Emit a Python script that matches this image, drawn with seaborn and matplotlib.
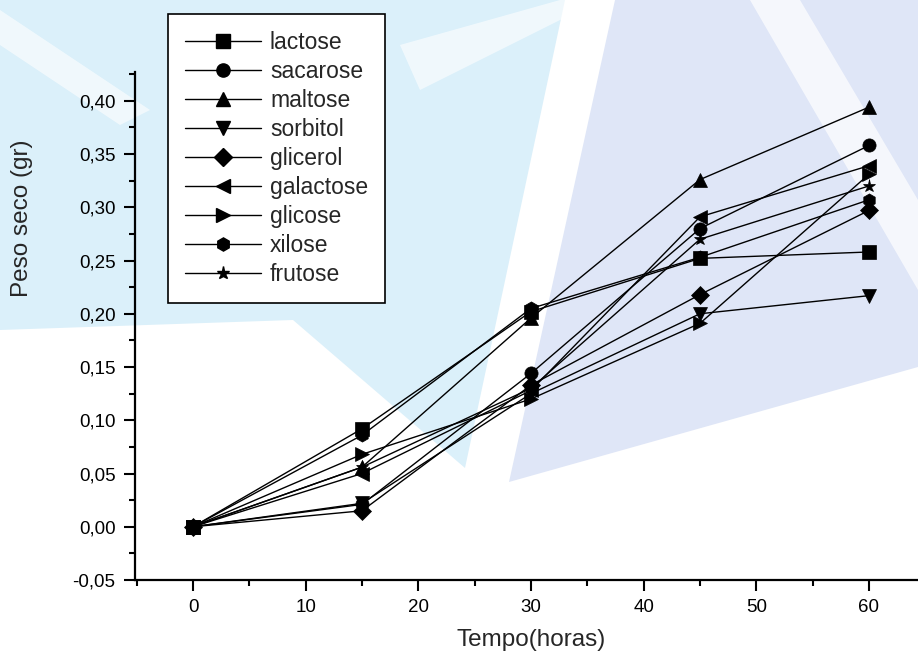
import numpy as np
import pandas as pd
import seaborn as sns
import matplotlib.pyplot as plt
from matplotlib.lines import Line2D
from matplotlib.patches import Polygon
from matplotlib.ticker import MultipleLocator, FuncFormatter

# dry weight per sugar

tempo = [0, 15, 30, 45, 60]

lactose = [0.0, 0.092, 0.202, 0.252, 0.258]
sacarose = [0.0, 0.021, 0.144, 0.280, 0.358]
maltose = [0.0, 0.056, 0.196, 0.326, 0.394]
sorbitol = [0.0, 0.022, 0.125, 0.200, 0.217]
glicerol = [0.0, 0.015, 0.133, 0.218, 0.297]
galactose = [0.0, 0.050, 0.128, 0.291, 0.339]
glicose = [0.0, 0.068, 0.120, 0.191, 0.331]
xilose = [0.0, 0.086, 0.205, 0.253, 0.307]
frutose = [0.0, 0.056, 0.130, 0.270, 0.320]

acucares = ['lactose', 'sacarose', 'maltose', 'sorbitol', 'glicerol',
            'galactose', 'glicose', 'xilose', 'frutose']
marcadores = ['s', 'o', '^', 'v', 'D', '<', '>', 'h', '*']

series = [lactose, sacarose, maltose, sorbitol, glicerol,
          galactose, glicose, xilose, frutose]

df = pd.DataFrame({'tempo': tempo * len(acucares),
                   'peso': np.concatenate(series),
                   'acucar': np.repeat(acucares, len(tempo))})

sns.set_theme(style="white")
plt.rcParams['font.family'] = ['Liberation Sans', 'DejaVu Sans']

fig = plt.figure(figsize=(9.18, 6.56), dpi=100)

# faint watermark in the background (pixel coords of the page)
bg = fig.add_axes([0, 0, 1, 1], zorder=0)
bg.set_xlim(0, 918)
bg.set_ylim(656, 0)
bg.axis('off')
bg.add_patch(Polygon([(0, 0), (565, 0), (465, 468), (293, 320), (0, 330)],
                     closed=True, color='#dbf0fa', lw=0))
bg.add_patch(Polygon([(615, 0), (918, 0), (918, 367), (509, 482)],
                     closed=True, color='#dfe6f7', lw=0))
bg.add_patch(Polygon([(0, 10), (0, 45), (120, 125), (150, 110)],
                     closed=True, color='white', alpha=0.6, lw=0))
bg.add_patch(Polygon([(400, 45), (560, 0), (600, 0), (420, 90)],
                     closed=True, color='white', alpha=0.6, lw=0))
bg.add_patch(Polygon([(750, 0), (800, 0), (918, 200), (918, 290)],
                     closed=True, color='white', alpha=0.7, lw=0))

ax = fig.add_axes([135 / 918, 1 - 580 / 656, 783 / 918, 508 / 656], zorder=1)
ax.patch.set_alpha(0)

sns.lineplot(data=df, x='tempo', y='peso', style='acucar', style_order=acucares,
             markers=dict(zip(acucares, marcadores)), dashes=False,
             color='black', linewidth=1, markersize=9.5,
             markeredgecolor='black', markeredgewidth=0.5,
             legend=False, ax=ax)

ax.set_xlim(-5.15, 64.35)
ax.set_ylim(-0.05, 0.427)

ax.xaxis.set_major_locator(MultipleLocator(10))
ax.xaxis.set_minor_locator(MultipleLocator(5))
ax.yaxis.set_major_locator(MultipleLocator(0.05))
ax.yaxis.set_minor_locator(MultipleLocator(0.025))
ax.yaxis.set_major_formatter(FuncFormatter(lambda v, p: ('%.2f' % v).replace('.', ',').replace('-0,00', '0,00')))

for s in ['top', 'right']:
    ax.spines[s].set_visible(False)
for s in ['left', 'bottom']:
    ax.spines[s].set_linewidth(1.6)
    ax.spines[s].set_color('black')

ax.tick_params(which='major', direction='out', length=8, width=1.5, colors='black',
               labelsize=13.5, left=True, bottom=True, pad=6)
ax.tick_params(which='minor', direction='out', length=4.5, width=1.5, colors='black',
               left=True, bottom=True)

ax.set_xlabel('')
ax.set_ylabel('')
fig.text(531 / 918, 1 - 640 / 656, 'Tempo(horas)', ha='center', va='center', fontsize=17.5)
fig.text(22 / 918, 1 - 218 / 656, 'Peso seco (gr)', ha='center', va='center',
         rotation=90, fontsize=17.5)

handles = [Line2D([], [], color='black', lw=1, marker=m, markersize=9.5,
                  markeredgecolor='black') for m in marcadores]
leg = fig.legend(handles, acucares, loc='upper left',
                 bbox_to_anchor=(168 / 918, 1 - 14 / 656), borderaxespad=0,
                 fontsize=16.5, frameon=True, fancybox=False, framealpha=1,
                 edgecolor='black', facecolor='white', handlelength=3.3,
                 handletextpad=0.4, labelspacing=0.26, borderpad=0.75)
leg.get_frame().set_linewidth(1.2)
leg.set_zorder(5)

fig.savefig('out.png', dpi=100)
